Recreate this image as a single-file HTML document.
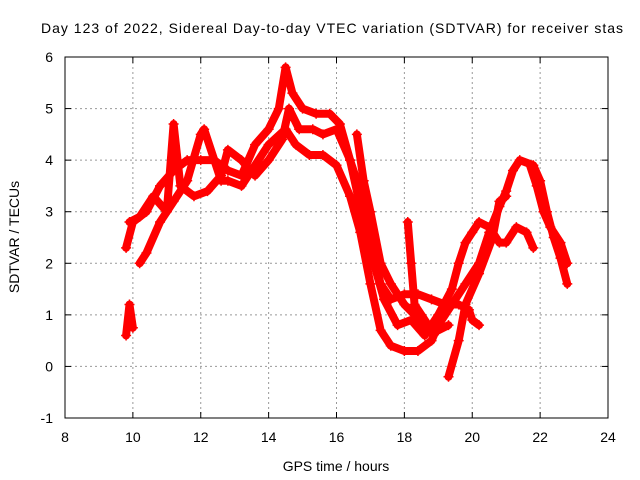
<!DOCTYPE html>
<html><head><meta charset="utf-8"><style>
body{margin:0;background:#fff;}
svg{display:block;font-family:"Liberation Sans",sans-serif;}
</style></head><body>
<svg id="chart" width="640" height="480" viewBox="0 0 640 480">
<rect x="0" y="0" width="640" height="480" fill="#fff"/>
<text x="332" y="33" font-size="14" text-anchor="middle" textLength="582">Day 123 of 2022, Sidereal Day-to-day VTEC variation (SDTVAR) for receiver stas</text>
<g id="grid"></g>
<g id="series"></g>
<rect x="65" y="57" width="543" height="361" fill="none" stroke="#000" stroke-width="1"/>
<g id="ticks"></g>
<text x="336" y="471" font-size="14" text-anchor="middle">GPS time / hours</text>
<text transform="translate(19,237) rotate(-90)" font-size="14" text-anchor="middle">SDTVAR / TECUs</text>
</svg>
<script>
const xTicks=[8,10,12,14,16,18,20,22,24];
const yTicks=[-1,0,1,2,3,4,5,6];
const s1T=[9.8,10.0,10.4,10.8,11.2,11.6,12.0,12.4,12.8,13.2,13.6,14.0,14.3,14.5,14.7,15.0,15.4,15.8,16.1,16.4,16.8,17.0,17.3,17.6,18.0,18.4,18.8,19.2,19.6,19.9,20.0,20.2];
const s1V=[2.3,2.8,3.0,3.5,3.8,4.0,4.0,4.0,3.8,3.7,4.3,4.6,5.0,5.8,5.3,5.0,4.9,4.9,4.7,4.0,3.2,2.4,1.6,1.3,1.4,1.4,1.3,1.2,1.2,1.1,0.9,0.8];
const s2T=[10.2,10.4,10.8,11.2,11.6,12.0,12.1,12.4,12.6,12.8,13.2,13.6,14.0,14.5,14.8,15.2,15.6,16.0,16.4,16.7,17.0,17.3,17.6,18.0,18.4,18.8,19.0,19.4,19.8,20.2,20.5,20.8,21.0,21.2,21.4,21.8,22.0,22.2,22.4,22.6,22.8];
const s2V=[2.0,2.2,2.8,3.2,3.6,4.5,4.6,4.0,3.6,3.6,3.5,3.9,4.3,4.6,4.3,4.1,4.1,3.9,3.3,2.6,1.6,0.7,0.4,0.3,0.3,0.5,0.8,1.2,1.6,2.0,2.6,3.1,3.4,3.8,4.0,3.9,3.6,3.0,2.5,2.1,1.6];
const s3T=[9.9,10.2,10.6,11.0,11.2,11.4,11.8,12.2,12.6,12.8,13.2,13.6,14.0,14.4,14.6,14.9,15.3,15.6,16.0,16.4,16.8,17.1,17.4,17.8,18.2,18.6,19.0,19.4,19.6,19.8,20.0,20.2,20.5,20.8,21.0,21.3,21.6,21.8];
const s3V=[2.8,2.9,3.3,3.0,4.7,3.5,3.3,3.4,3.7,4.2,4.0,3.7,4.0,4.4,5.0,4.6,4.6,4.5,4.6,4.0,2.8,2.0,1.3,0.8,0.9,0.6,1.0,1.5,2.0,2.4,2.6,2.8,2.7,2.4,2.4,2.7,2.6,2.3];
const s4T=[16.6,16.8,17.0,17.3,17.6,18.0,18.3,18.6,19.0,19.3];
const s4V=[4.5,3.6,3.0,2.0,1.6,1.2,1.0,0.8,0.7,0.8];
const s5T=[18.1,18.2,18.3,18.5,18.8];
const s5V=[2.8,2.0,1.2,1.0,0.7];
const s6T=[19.3,19.6,19.8,20.2,20.6,20.8,21.0];
const s6V=[-0.2,0.5,1.2,1.8,2.5,3.2,3.3];
const s7T=[21.7,21.9,22.1,22.3,22.6,22.8];
const s7V=[3.9,3.5,3.0,2.7,2.4,2.0];
const s8T=[9.8,9.9,10.0];
const s8V=[0.6,1.2,0.75];

const X0=65,X1=608,Y0=418,Y1=57;
function xs(v){return X0+(v-8)/(24-8)*(X1-X0);}
function ys(v){return Y0-(v-(-1))/(6-(-1))*(Y0-Y1);}
const NS="http://www.w3.org/2000/svg";
function mk(tag,attrs,parent){const e=document.createElementNS(NS,tag);for(const k in attrs)e.setAttribute(k,attrs[k]);parent.appendChild(e);return e;}
const grid=document.getElementById('grid'),ticks=document.getElementById('ticks'),ser=document.getElementById('series');
xTicks.forEach(t=>{const x=xs(t);
 if(t>8&&t<24){const g=mk('line',{x1:x,x2:x,y1:Y1,y2:Y0,stroke:'#999','stroke-dasharray':'2,3','stroke-width':1},grid);
 
 }
 mk('line',{x1:x,x2:x,y1:Y0,y2:Y0-6,stroke:'#000'},ticks);
 mk('line',{x1:x,x2:x,y1:Y1,y2:Y1+6,stroke:'#000'},ticks);
 const l=mk('text',{x:x,y:Y0+24,'font-size':14,'text-anchor':'middle'},ticks);l.textContent=t;
 
 
});
yTicks.forEach(t=>{const y=ys(t);
 if(t>-1&&t<6){const g=mk('line',{x1:X0,x2:X1,y1:y,y2:y,stroke:'#999','stroke-dasharray':'2,3','stroke-width':1},grid);
 
 }
 mk('line',{x1:X0,x2:X0+6,y1:y,y2:y,stroke:'#000'},ticks);
 mk('line',{x1:X1,x2:X1-6,y1:y,y2:y,stroke:'#000'},ticks);
 const l=mk('text',{x:X0-12,y:y+5,'font-size':14,'text-anchor':'end'},ticks);l.textContent=t;
 
 
});
const all=[[s1T,s1V],[s2T,s2V],[s3T,s3V],[s4T,s4V],[s5T,s5V],[s6T,s6V],[s7T,s7V],[s8T,s8V]];
all.forEach((s,i)=>{
 const pts=s[0].map((t,j)=>xs(t)+','+ys(s[1][j])).join(' ');
 const pl=mk('polyline',{points:pts,fill:'none',stroke:'#f00','stroke-width':8,'stroke-linejoin':'round','stroke-linecap':'round'},ser);
 
 
 s[0].forEach((t,j)=>{const x=xs(t),y=ys(s[1][j]);
  const p=mk('path',{d:`M${x-5},${y}h10M${x},${y-5}v10`,stroke:'#f00','stroke-width':1.5},ser);
  
  
 });
});
</script>
</body></html>
